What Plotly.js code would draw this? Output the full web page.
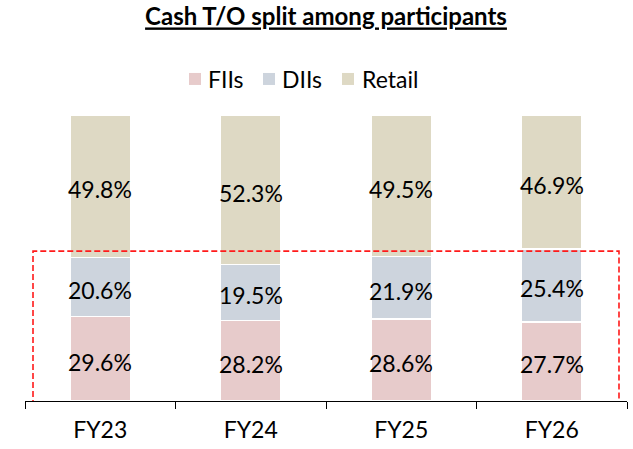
<!DOCTYPE html>
<html>
<head>
<meta charset="utf-8">
<script src="https://cdn.plot.ly/plotly-3.0.1.min.js"></script>
<style>html,body{margin:0;padding:0;background:#fff;}#chart{width:633px;height:449px;}</style>
</head>
<body>
<div id="chart"></div>
<script>
var categories = ["FY23", "FY24", "FY25", "FY26"];
var fiis = [29.6, 28.2, 28.6, 27.7];
var diis = [20.6, 19.5, 21.9, 25.4];
var retail = [49.8, 52.3, 49.5, 46.9];
var seriesNames = ["FIIs", "DIIs", "Retail"];
var seriesColors = ["#E7CBCB", "#CDD4DD", "#DED9C4"];

var allSeries = [fiis, diis, retail];
var LABEL_FONT = { family: "Lato", size: 23, color: "#000000" };

var traces = [];
allSeries.forEach(function (vals, i) {
  traces.push({
    type: "bar",
    name: seriesNames[i],
    x: categories,
    y: vals,
    textposition: "none",
    marker: { color: seriesColors[i], line: { color: "#ffffff", width: 1.5 } },
    hoverinfo: "skip",
    showlegend: false
  });
});

var shapes = [];
var annotations = [];

// value labels at the middle of each stacked segment (from the data)
allSeries.forEach(function (vals, i) {
  vals.forEach(function (v, k) {
    var base = 0;
    for (var j = 0; j < i; j++) base += allSeries[j][k];
    annotations.push({
      xref: "x", yref: "y",
      x: categories[k], y: base + v / 2,
      xanchor: "center", yanchor: "middle",
      yshift: -3,
      text: v.toFixed(1) + "%",
      showarrow: false,
      font: LABEL_FONT
    });
  });
});

// custom legend (square + name), laid out like the reference
var legendSquareX = [195, 269, 348];
var legendTextX = [206, 280, 360];
var legendY = 1.126;
var plotL = 25, plotW = 602;
seriesNames.forEach(function (name, i) {
  shapes.push({
    type: "rect", xref: "paper", yref: "paper",
    xsizemode: "pixel", ysizemode: "pixel",
    xanchor: (legendSquareX[i] - plotL) / plotW, yanchor: legendY,
    x0: -6, x1: 6, y0: -6, y1: 6,
    fillcolor: seriesColors[i], line: { width: 0 }
  });
  annotations.push({
    xref: "paper", yref: "paper",
    x: (legendTextX[i] - plotL) / plotW, y: legendY,
    xanchor: "left", yanchor: "middle",
    text: name, showarrow: false,
    font: { family: "Lato", size: 23, color: "#000000" }
  });
});

// red dashed highlight box
shapes.push({
  type: "rect",
  xref: "paper", yref: "y",
  x0: 0.0133, x1: 0.9867,
  y0: -1.9, y1: 52.4,
  line: { color: "#FF1A1A", width: 1.6, dash: "6px,3px" },
  fillcolor: "rgba(0,0,0,0)"
});

var layout = {
  width: 633,
  height: 449,
  barmode: "stack",
  bargap: 0.6,
  paper_bgcolor: "#ffffff",
  plot_bgcolor: "#ffffff",
  margin: { l: 25, r: 6, t: 115, b: 48, pad: 0 },
  font: { family: "Lato", color: "#000000" },
  title: {
    text: "<b><u>Cash T/O split among participants</u></b>",
    font: { family: "Lato", size: 24, color: "#000000" },
    x: 0.5, xref: "paper", xanchor: "center",
    y: 0.962, yref: "container", yanchor: "middle"
  },
  showlegend: false,
  xaxis: {
    type: "category",
    range: [-0.5, 3.5],
    showline: true,
    linecolor: "#000000",
    linewidth: 1,
    ticks: "outside",
    tickson: "boundaries",
    ticklen: 7,
    tickcolor: "#000000",
    ticklabelstandoff: 8,
    tickfont: { family: "Lato", size: 23, color: "#000000" },
    showgrid: false,
    zeroline: false
  },
  yaxis: {
    range: [0, 100],
    visible: false,
    showgrid: false,
    zeroline: false
  },
  shapes: shapes,
  annotations: annotations
};

Plotly.newPlot("chart", traces, layout, { displayModeBar: false, staticPlot: true });
</script>
</body>
</html>
